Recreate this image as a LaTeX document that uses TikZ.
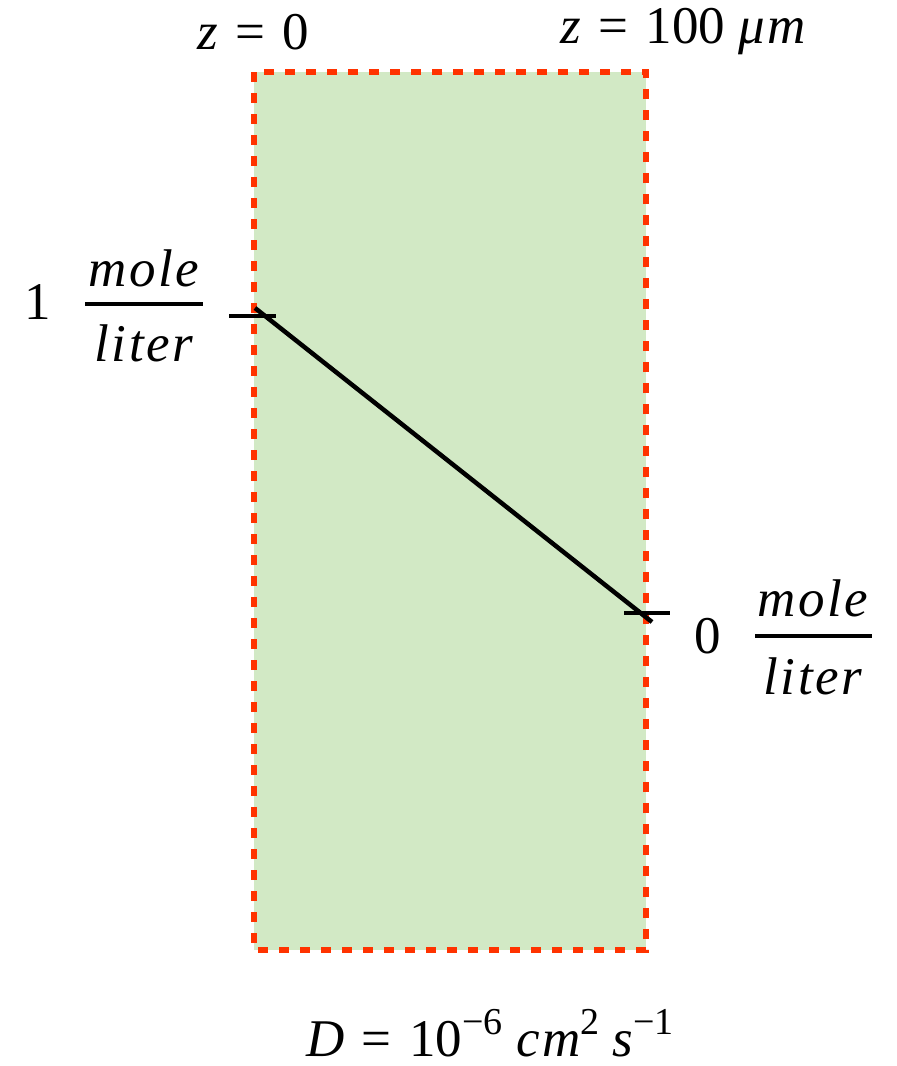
\documentclass[tikz,border=0pt]{standalone}
\usepackage{fontspec}
\setmainfont{Liberation Serif}
\newcommand{\eqsp}{\hspace{0.33em}=\hspace{0.33em}}
\newcommand{\mvar}[1]{{\itshape\addfontfeature{LetterSpace=5}#1}}
\newcommand{\supx}[1]{\raisebox{0.42em}{\fontsize{38}{42}\selectfont #1}}
\begin{document}
\begin{tikzpicture}[x=1pt,y=-1pt,
  lbl/.style={inner sep=0pt,font=\fontsize{53}{60}\selectfont},
  bar/.style={line width=4.5pt},
  tick/.style={line width=4.5pt},
  profile/.style={line width=4.5pt}]
\useasboundingbox (0,0) rectangle (897,1066);
\definecolor{slabgreen}{HTML}{D2E9C5}
\definecolor{dashred}{HTML}{FF3300}
\fill[slabgreen] (254,72) rectangle (646,950);
\draw[dashred,line width=5.5pt,dash pattern=on 10pt off 11pt] (254,72) rectangle (646,950);
% ticks and profile
\coordinate (tl1) at (229,316); \coordinate (tl2) at (276,316);
\coordinate (tr1) at (624,613); \coordinate (tr2) at (670,613);
\coordinate (p1) at (255,308); \coordinate (p2) at (652,622);
\draw[tick] (tl1) -- (tl2);
\draw[tick] (tr1) -- (tr2);
\draw[profile] (p1) -- (p2);
% top labels
\node[lbl] (z0) at (253,32) {\mvar{z}\eqsp 0};
\node[lbl] (z100) at (683,32) {\mvar{z}\eqsp 100 \mvar{μm}};
% left fraction
\node[lbl] (one) at (38,302) {1};
\node[lbl] (lmole) at (144,268) {\mvar{mole}};
\node[lbl] (lliter) at (144,343) {\mvar{liter}};
\coordinate (lb1) at (85,304); \coordinate (lb2) at (203,304);
\draw[bar] (lb1) -- (lb2);
% right fraction
\node[lbl] (zero) at (708,636) {0};
\node[lbl] (rmole) at (813,598) {\mvar{mole}};
\node[lbl] (rliter) at (813,676) {\mvar{liter}};
\coordinate (rb1) at (755,636); \coordinate (rb2) at (872,636);
\draw[bar] (rb1) -- (rb2);
% bottom
\node[lbl] (D) at (490,1033) {\mvar{D}\eqsp 10\supx{−6} \mvar{cm}\supx{2} \mvar{s}\supx{−1}};
\end{tikzpicture}
\end{document}
